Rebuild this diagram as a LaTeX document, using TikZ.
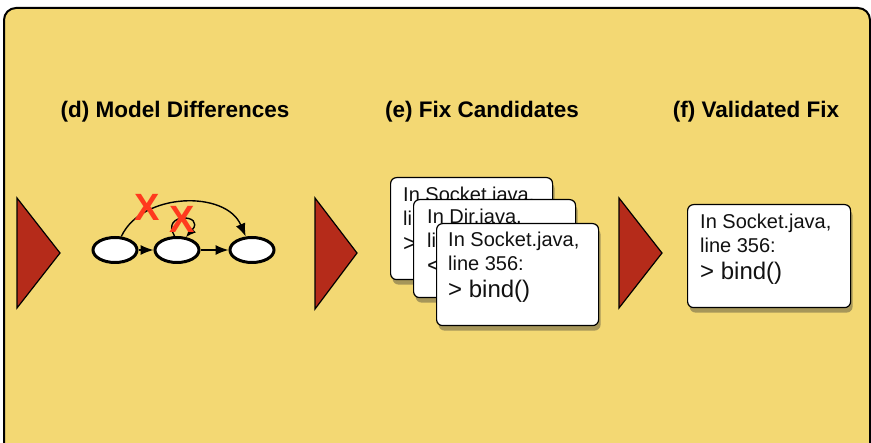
\documentclass[tikz,border=0pt]{standalone}
\usepackage{fontspec}
\setsansfont{Liberation Sans}
\usetikzlibrary{shapes.geometric,shadows,arrows.meta}

\begin{document}
\begin{tikzpicture}[x=1pt,y=-1pt,font=\sffamily,
  title/.style={font=\sffamily\bfseries\fontsize{22.5}{27}\selectfont,text=black,anchor=base,inner sep=0pt},
  tri/.style={fill=tri,draw=black,line width=1.2pt,line join=miter},
  state/.style={ellipse,draw=black,fill=white,line width=3pt,minimum width=44pt,minimum height=25pt,inner sep=0pt},
  flow/.style={line width=1.4pt,-{Latex[length=13pt,width=10pt]}},
  cross/.style={text=cross,font=\sffamily\bfseries\fontsize{38}{38}\selectfont,inner sep=0pt},
  card/.style={draw=black,fill=white,line width=1.2pt,rounded corners=6pt,anchor=north west,
    minimum width=162pt,minimum height=102pt,inner sep=0pt,
    drop shadow={shadow xshift=2pt,shadow yshift=-5pt,opacity=.4,fill=black!80}},
  cardtext/.style={anchor=north west,align=left,inner sep=0pt,text=ink,
    font=\sffamily\fontsize{20}{24}\selectfont}]
\definecolor{panel}{HTML}{F3D873}\definecolor{tri}{HTML}{B52B1A}
\definecolor{cross}{HTML}{FF3A1E}\definecolor{ink}{HTML}{111111}
\useasboundingbox (0,0) rectangle (871,443);
\fill[white] (0,0) rectangle (871,443);
\begin{scope}
\clip (0,0) rectangle (871,443);
\filldraw[fill=panel,draw=black,line width=2pt,rounded corners=12pt] (4,460) -- (4,8) -- (870,8) -- (870,460);
\end{scope}
\node[title] (td) at (175,118) {(d) Model Differences};
\node[title] (te) at (482,118) {(e) Fix Candidates};
\node[title] (tf) at (756,118) {(f) Validated Fix};
\filldraw[tri] (17,198) -- (60,253) -- (17,308) -- cycle;
\filldraw[tri] (315,198) -- (357,253) -- (315,309) -- cycle;
\filldraw[tri] (619,198) -- (662,253) -- (619,308) -- cycle;
\node[state] (sa) at (115,250) {};
\node[state] (sb) at (177,250) {};
\node[state] (sc) at (252,250) {};
\draw[flow] (sa) -- (sb);
\draw[flow] (sb) -- (sc);
\draw[flow] (sa.65) .. controls (142,192) and (226,190) .. (sc.115);
\draw[flow,-{Latex[length=10pt,width=9pt]}] (sb.100) .. controls (160,212) and (206,214) .. (sb.55);
\node[cross] (xa) at (147,207) {X};
\node[cross] (xb) at (182,219) {X};
\node[card] (ca) at (390,177) {};
\node[cardtext] (ta) at ([shift={(13,10)}]ca.north west) {In Socket.java,\\line 356:\\[2pt]{\fontsize{24}{28}\selectfont > bind()}};
\node[card,minimum height=98pt] (cb) at (413,199) {};
\node[cardtext] (tb) at ([shift={(14,10)}]cb.north west) {In Dir.java,\\line 356:\\[2pt]{\fontsize{24}{28}\selectfont < bind()}};
\node[card] (cc) at (436,223) {};
\node[cardtext] (tc) at ([shift={(12,9)}]cc.north west) {In Socket.java,\\line 356:\\[3pt]{\fontsize{24}{28}\selectfont > bind()}};
\node[card,minimum height=103pt,minimum width=163pt] (cd) at (687,204) {};
\node[cardtext] (td2) at ([shift={(13,10)}]cd.north west) {In Socket.java,\\line 356:\\[3pt]{\fontsize{24}{28}\selectfont > bind()}};
\end{tikzpicture}
\end{document}
